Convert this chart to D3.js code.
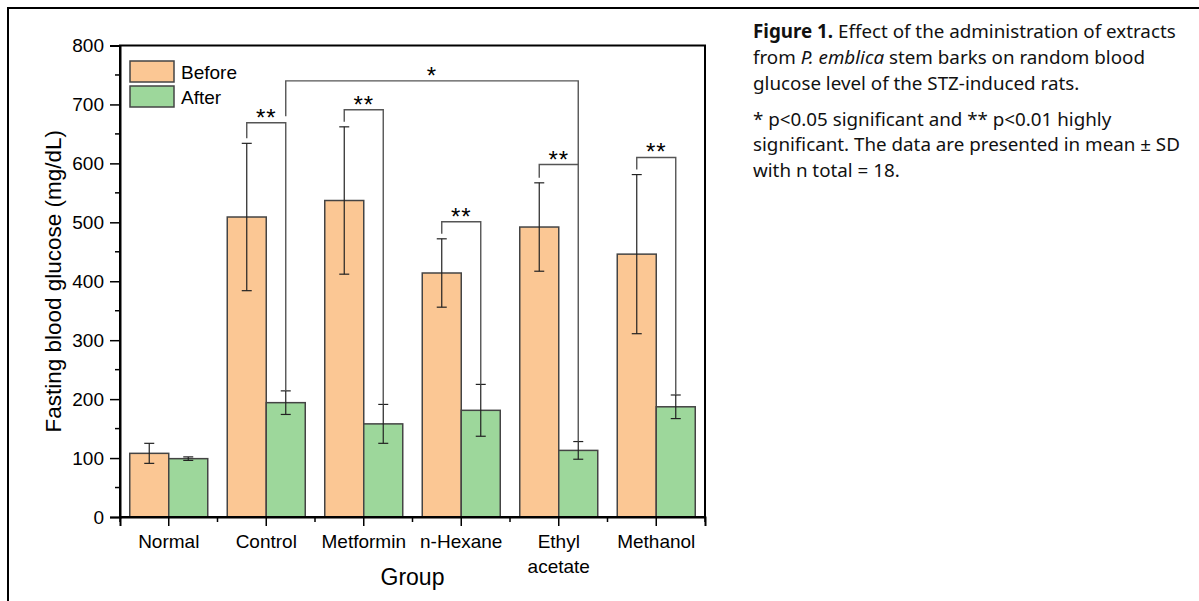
<!DOCTYPE html>
<html>
<head>
<meta charset="utf-8">
<script src="https://cdn.jsdelivr.net/npm/d3@7"></script>
<style>
  body { margin: 0; background: #fff; }
  svg text { font-family: "Liberation Sans", Arial, sans-serif; }
  .caption { font-family: "Noto Sans", sans-serif; font-size: 18.8px; fill: #111; }
</style>
</head>
<body>
<div id="chart"></div>
<script>
// data
let groups = ["Normal", "Control", "Metformin", "n-Hexane", "Ethyl acetate", "Methanol"];
let beforeMean = [108, 509, 537, 414, 492, 446];
let beforeSD = [17, 125, 125, 58, 75, 135];
let afterMean = [99, 194, 158, 181, 113, 187];
let afterSD = [3, 20, 33, 44, 15, 20];
let yTicks = [0, 100, 200, 300, 400, 500, 600, 700, 800];

// significance brackets: from group/series to group/series, bar level, leg ends
let sigFrom = [1, 2, 3, 4, 5, 1];
let sigFromSeries = ["Before", "Before", "Before", "Before", "Before", "After"];
let sigTo = [1, 2, 3, 4, 5, 4];
let sigToSeries = ["After", "After", "After", "After", "After", "After"];
let sigLevel = [669, 691, 501, 598, 610, 740];
let sigLeftEnd = [null, null, null, null, null, 680];
let sigRightEnd = [null, null, null, null, null, 598];
let sigLabel = ["**", "**", "**", "**", "**", "*"];

let svgWidth = 1199, svgHeight = 601;
let margin = { top: 45.5, left: 120, right: 494, bottom: 84 };
let plotW = svgWidth - margin.left - margin.right;
let plotH = svgHeight - margin.top - margin.bottom;

let colors = { Before: "#fbc794", After: "#9dd79b" };

let svg = d3.select("#chart").append("svg")
  .attr("width", svgWidth)
  .attr("height", svgHeight);

// outer frame (extends past the right/bottom edges)
svg.append("path")
  .attr("d", `M8,${svgHeight + 5} V8 H${svgWidth + 5}`)
  .attr("fill", "none")
  .attr("stroke", "#000")
  .attr("stroke-width", 2);

let g = svg.append("g")
  .attr("transform", `translate(${margin.left},${margin.top})`);

let x = d3.scaleBand().domain(groups).range([0, plotW])
  .paddingInner(0.2).paddingOuter(0.1);
let xSub = d3.scaleBand().domain(["Before", "After"]).range([0, x.bandwidth()]);
let y = d3.scaleLinear().domain([0, 800]).range([plotH, 0]);

let rows = [];
groups.forEach((grp, i) => {
  rows.push({ grp: grp, s: "Before", v: beforeMean[i], sd: beforeSD[i] });
  rows.push({ grp: grp, s: "After", v: afterMean[i], sd: afterSD[i] });
});
let cx = (grp, s) => x(grp) + xSub(s) + xSub.bandwidth() / 2;

// bars
g.selectAll("rect.bar").data(rows).enter().append("rect")
  .attr("class", "bar")
  .attr("x", d => x(d.grp) + xSub(d.s))
  .attr("y", d => y(d.v))
  .attr("width", xSub.bandwidth())
  .attr("height", d => y(0) - y(d.v))
  .attr("fill", d => colors[d.s])
  .attr("stroke", "#444")
  .attr("stroke-width", 1.5);

// error bars
let eb = g.selectAll("g.err").data(rows).enter().append("g")
  .attr("class", "err")
  .attr("stroke", "#222")
  .attr("stroke-width", 1.2);
eb.append("line")
  .attr("x1", d => cx(d.grp, d.s)).attr("x2", d => cx(d.grp, d.s))
  .attr("y1", d => y(d.v + d.sd)).attr("y2", d => y(d.v - d.sd));
[1, -1].forEach(sign => {
  eb.append("line")
    .attr("x1", d => cx(d.grp, d.s) - 5).attr("x2", d => cx(d.grp, d.s) + 5)
    .attr("y1", d => y(d.v + sign * d.sd)).attr("y2", d => y(d.v + sign * d.sd));
});

// plot box
g.append("rect")
  .attr("width", plotW).attr("height", plotH)
  .attr("fill", "none").attr("stroke", "#000").attr("stroke-width", 2);

// y axis
let yAxis = g.append("g")
  .call(d3.axisLeft(y).tickValues(yTicks).tickSize(10).tickPadding(6));
yAxis.select(".domain").attr("stroke-width", 2);
yAxis.selectAll(".tick line").attr("stroke-width", 1.5);
yAxis.selectAll("text").attr("font-size", 19).attr("fill", "#000")
  .attr("font-family", "Liberation Sans, Arial, sans-serif");
g.append("g").selectAll("line").data(yTicks.slice(0, -1).map(v => v + 50)).enter()
  .append("line")
  .attr("x1", -5).attr("x2", 0)
  .attr("y1", d => y(d)).attr("y2", d => y(d))
  .attr("stroke", "#000").attr("stroke-width", 1.5);

// x axis
let xAxis = g.append("g")
  .attr("transform", `translate(0,${plotH})`)
  .call(d3.axisBottom(x).tickSize(9).tickPadding(8).tickFormat(""));
xAxis.select(".domain").attr("stroke-width", 2);
xAxis.selectAll(".tick line").attr("stroke-width", 1.5);
// minor ticks between the groups
let boundary = i => i * x.step() + x.step() * (x.paddingOuter() - x.paddingInner() / 2);
g.append("g").selectAll("line").data(d3.range(groups.length + 1)).enter()
  .append("line")
  .attr("x1", boundary).attr("x2", boundary)
  .attr("y1", plotH).attr("y2", plotH + 5)
  .attr("stroke", "#000").attr("stroke-width", 1.5);

// category labels (two lines allowed)
let lab = g.append("g").selectAll("text").data(groups).enter().append("text")
  .attr("x", d => x(d) + x.bandwidth() / 2)
  .attr("y", plotH + 31)
  .attr("text-anchor", "middle")
  .attr("font-size", 19);
lab.each(function(d) {
  let parts = d === "Ethyl acetate" ? ["Ethyl", "acetate"] : [d];
  d3.select(this).selectAll("tspan").data(parts).enter().append("tspan")
    .attr("x", x(d) + x.bandwidth() / 2)
    .attr("dy", (p, i) => i === 0 ? 0 : 24.5)
    .text(p => p);
});

// axis titles
g.append("text")
  .attr("x", plotW / 2).attr("y", plotH + 68)
  .attr("text-anchor", "middle").attr("font-size", 23)
  .text("Group");
g.append("text")
  .attr("transform", `translate(${61 - margin.left},${plotH / 2}) rotate(-90)`)
  .attr("text-anchor", "middle").attr("font-size", 22.5)
  .text("Fasting blood glucose (mg/dL)");

// significance brackets
let sig = sigLabel.map((lbl, i) => ({
  x1: cx(groups[sigFrom[i]], sigFromSeries[i]),
  x2: cx(groups[sigTo[i]], sigToSeries[i]),
  yTop: y(sigLevel[i]),
  yL: sigLeftEnd[i] !== null ? y(sigLeftEnd[i]) :
      y(sigFromSeries[i] === "Before" ? beforeMean[sigFrom[i]] + beforeSD[sigFrom[i]]
                                      : afterMean[sigFrom[i]] + afterSD[sigFrom[i]]) - 5,
  yR: sigRightEnd[i] !== null ? y(sigRightEnd[i]) :
      y(sigToSeries[i] === "Before" ? beforeMean[sigTo[i]] + beforeSD[sigTo[i]]
                                    : afterMean[sigTo[i]] + afterSD[sigTo[i]]),
  label: lbl
}));
let sg = g.append("g").selectAll("g").data(sig).enter().append("g");
sg.append("path")
  .attr("d", d => `M${d.x1},${d.yL} V${d.yTop} H${d.x2} V${d.yR}`)
  .attr("fill", "none").attr("stroke", "#555").attr("stroke-width", 1.4);
sg.append("text")
  .attr("x", d => (d.x1 + d.x2) / 2)
  .attr("y", d => d.yTop + 3)
  .attr("text-anchor", "middle")
  .attr("font-size", 24)
  .attr("letter-spacing", 1)
  .text(d => d.label);

// legend
let leg = g.append("g").attr("transform", "translate(10,15.5)");
["Before", "After"].forEach((s, i) => {
  leg.append("rect")
    .attr("x", 0).attr("y", i * 25)
    .attr("width", 44).attr("height", 21)
    .attr("fill", colors[s]).attr("stroke", "#444").attr("stroke-width", 1.5);
  leg.append("text")
    .attr("x", 51).attr("y", i * 25 + 17.5)
    .attr("font-size", 19)
    .text(s);
});

// caption
let cap = svg.append("g").attr("class", "caption");
let capLines = [
  [["Figure 1.", "bold"], [" Effect of the administration of extracts", ""]],
  [["from ", ""], ["P. emblica", "italic"], [" stem barks on random blood", ""]],
  [["glucose level of the STZ-induced rats.", ""]],
  [["* p<0.05 significant and ** p<0.01 highly", ""]],
  [["significant. The data are presented in mean \u00b1 SD", ""]],
  [["with n total = 18.", ""]]
];
let capY = [38, 64, 89.5, 126, 151, 176.5];
capLines.forEach((parts, i) => {
  let t = cap.append("text").attr("class", "caption").attr("x", 753).attr("y", capY[i]);
  parts.forEach(p => {
    t.append("tspan")
      .attr("font-weight", p[1] === "bold" ? "bold" : null)
      .attr("font-style", p[1] === "italic" ? "italic" : null)
      .text(p[0]);
  });
});
</script>
</body>
</html>
